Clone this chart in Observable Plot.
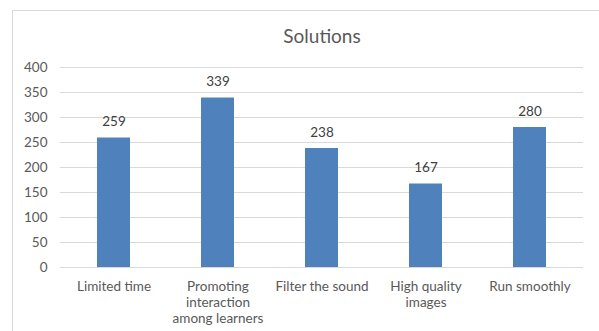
<!DOCTYPE html>
<html>
<head>
<meta charset="utf-8">
<script src="https://cdn.jsdelivr.net/npm/d3@7"></script>
<script src="https://cdn.jsdelivr.net/npm/@observablehq/plot@0.6"></script>
<style>
  html, body { margin: 0; padding: 0; background: #fff; }
  #wrap { position: relative; width: 599px; height: 331px; overflow: hidden; }
  #border { position: absolute; left: 12px; top: 10px; width: 620px; height: 360px; border: 1px solid #d9d9d9; box-sizing: border-box; }
  #chart { position: absolute; left: 0; top: 0; }
</style>
</head>
<body>
<div id="wrap"><div id="border"></div><div id="chart"></div></div>
<script>
const categories = ["Limited time", "Promoting interaction among learners", "Filter the sound", "High quality images", "Run smoothly"];
const tickLabels = ["Limited time", "Promoting\ninteraction\namong learners", "Filter the sound", "High quality\nimages", "Run smoothly"];
const values = [259, 339, 238, 167, 280];
const yTicks = [0, 50, 100, 150, 200, 250, 300, 350, 400];
const title = "Solutions";

const data = categories.map((c, i) => ({category: c, value: values[i]}));
const labelOf = new Map(categories.map((c, i) => [c, tickLabels[i]]));
const font = "Lato, 'Open Sans', sans-serif";

const chart = Plot.plot({
  width: 599,
  height: 331,
  marginLeft: 60,
  marginRight: 16,
  marginTop: 67,
  marginBottom: 64,
  style: {fontFamily: font, fontSize: "13px", color: "#595959", background: "transparent"},
  x: {domain: categories, paddingInner: 0.68, paddingOuter: 0.34, label: null},
  y: {domain: [0, 400], ticks: yTicks, label: null},
  marks: [
    Plot.ruleY(yTicks, {stroke: "#d9d9d9", strokeWidth: 1}),
    Plot.barY(data, {x: "category", y: "value", fill: "#4f81bd"}),
    Plot.text(data, {x: "category", y: "value", text: d => String(d.value), dy: -16, fill: "#404040", fontSize: 13.5}),
    Plot.axisY({ticks: yTicks, tickSize: 0, tickPadding: 13, fill: "#595959", fontSize: 13.5, label: null}),
    Plot.axisX({tickSize: 0, tickPadding: 12, tickFormat: c => labelOf.get(c), fill: "#595959", fontSize: 13.5, lineHeight: 1.18, label: null}),
    Plot.text([title], {frameAnchor: "top", text: d => d, dy: -38, fontSize: 19, fill: "#595959"})
  ]
});
document.getElementById("chart").appendChild(chart);
</script>
</body>
</html>
